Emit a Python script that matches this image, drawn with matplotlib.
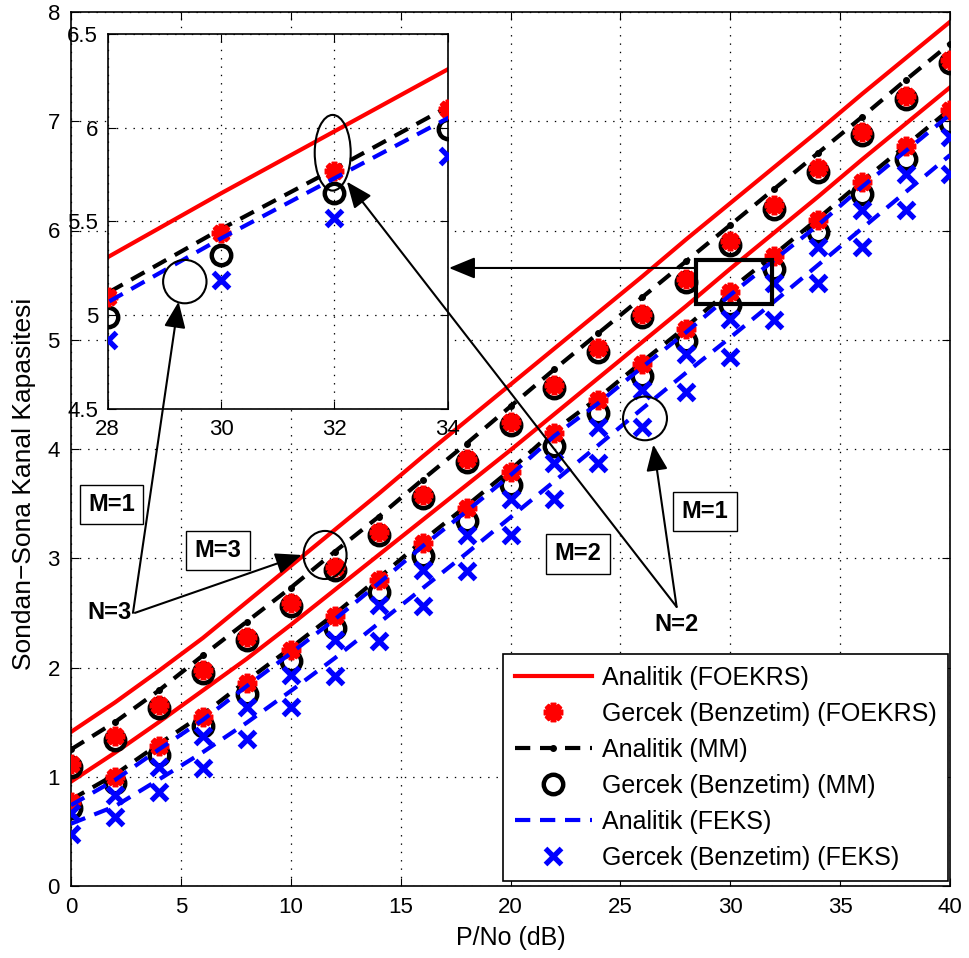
import matplotlib
matplotlib.use('Agg')
import matplotlib.pyplot as plt
from matplotlib.patches import Ellipse, Rectangle
from matplotlib.lines import Line2D

plt.rcParams['font.family'] = ['Liberation Sans', 'DejaVu Sans']
plt.rcParams['lines.scale_dashes'] = False

# ------------ data ------------
snr = [0, 2, 4, 6, 8, 10, 12, 14, 16, 18, 20, 22, 24, 26, 28, 30, 32, 34, 36, 38, 40]

# upper group (N=3)
foekrs_an_hi = [1.41, 1.68, 1.97, 2.27, 2.60, 2.93, 3.26, 3.59, 3.93, 4.26, 4.59,
                4.92, 5.25, 5.58, 5.92, 6.25, 6.58, 6.91, 7.25, 7.58, 7.91]
foekrs_sim_hi = [1.12, 1.37, 1.66, 1.98, 2.28, 2.59, 2.92, 3.24, 3.58, 3.91, 4.25,
                 4.59, 4.92, 5.24, 5.56, 5.90, 6.23, 6.57, 6.90, 7.23, 7.56]
mm_an_hi = [1.25, 1.50, 1.79, 2.11, 2.42, 2.73, 3.06, 3.38, 3.72, 4.05, 4.39,
            4.73, 5.06, 5.39, 5.72, 6.05, 6.38, 6.71, 7.04, 7.38, 7.71]
mm_sim_hi = [1.09, 1.34, 1.63, 1.95, 2.25, 2.56, 2.89, 3.21, 3.55, 3.88, 4.22,
             4.56, 4.89, 5.21, 5.53, 5.87, 6.20, 6.54, 6.87, 7.20, 7.53]

# lower group (N=2)
foekrs_an_lo = [0.955, 1.22, 1.50, 1.79, 2.08, 2.39, 2.71, 3.03, 3.35, 3.67, 3.99,
                4.32, 4.65, 4.98, 5.31, 5.65, 5.98, 6.31, 6.65, 6.98, 7.31]
foekrs_sim_lo = [0.77, 1.00, 1.28, 1.55, 1.86, 2.16, 2.47, 2.80, 3.14, 3.46, 3.79,
                 4.15, 4.45, 4.78, 5.10, 5.44, 5.77, 6.10, 6.44, 6.77, 7.10]
mm_an_lo = [0.79, 1.02, 1.30, 1.57, 1.88, 2.18, 2.49, 2.82, 3.16, 3.48, 3.81,
            4.17, 4.47, 4.80, 5.12, 5.46, 5.78, 6.11, 6.45, 6.78, 7.11]
mm_sim_lo = [0.71, 0.94, 1.20, 1.46, 1.76, 2.06, 2.36, 2.69, 3.02, 3.34, 3.67,
             4.03, 4.33, 4.67, 4.99, 5.32, 5.65, 5.99, 6.33, 6.65, 6.98]
feks_an_lo = [0.74, 0.97, 1.25, 1.52, 1.83, 2.13, 2.44, 2.77, 3.11, 3.43, 3.76,
              4.12, 4.42, 4.75, 5.07, 5.41, 5.73, 6.05, 6.40, 6.73, 7.06]
feks_sim_lo = [0.665, 0.83, 1.09, 1.37, 1.64, 1.93, 2.25, 2.57, 2.89, 3.21, 3.54,
               3.87, 4.20, 4.54, 4.87, 5.19, 5.52, 5.85, 6.19, 6.52, 6.86]

# lowest blue pair
feks_an_lo2 = [0.57, 0.73, 0.975, 1.225, 1.495, 1.785, 2.085, 2.405, 2.725, 3.045, 3.375,
               3.705, 4.035, 4.37, 4.70, 5.02, 5.35, 5.685, 6.02, 6.355, 6.69]
feks_sim_lo2 = [0.48, 0.63, 0.86, 1.08, 1.35, 1.64, 1.92, 2.24, 2.56, 2.88, 3.21,
                3.54, 3.87, 4.20, 4.525, 4.845, 5.18, 5.52, 5.85, 6.19, 6.52]

labels = ['Analitik (FOEKRS)', 'Gercek (Benzetim) (FOEKRS)', 'Analitik (MM)',
          'Gercek (Benzetim) (MM)', 'Analitik (FEKS)', 'Gercek (Benzetim) (FEKS)']

# ------------ styles ------------
DASH = (11, 7)
red_line = dict(color='red', lw=3, zorder=2)
star = dict(ls='none', marker=(8, 2, 0), ms=14, mew=4, color='red', zorder=3.5)
black_line = dict(color='black', lw=3, ls='--', dashes=DASH, marker='o', ms=4, zorder=2.1)
circ = dict(ls='none', marker='o', ms=14, mew=3.2, mfc='none', mec='black', zorder=3)
blue_line = dict(color='blue', lw=3, ls='--', dashes=DASH, zorder=3.6)
cross = dict(ls='none', marker='x', ms=12, mew=3.8, color='blue', zorder=3.7)


def lower_group(a):
    a.plot(snr, foekrs_an_lo, **red_line)
    a.plot(snr, foekrs_sim_lo, **star)
    a.plot(snr, mm_an_lo, **black_line)
    a.plot(snr, mm_sim_lo, **circ)
    a.plot(snr, feks_an_lo, **blue_line)
    a.plot(snr, feks_sim_lo, **cross)


fig = plt.figure(figsize=(9.69, 9.58), dpi=100)
ax = fig.add_axes([71 / 969, 1 - 886 / 958, 879 / 969, 874 / 958])

ax.plot(snr, foekrs_an_hi, **red_line)
ax.plot(snr, foekrs_sim_hi, **star)
ax.plot(snr, mm_an_hi, **black_line)
ax.plot(snr, mm_sim_hi, **circ)
lower_group(ax)
ax.plot(snr, feks_an_lo2, **blue_line)
ax.plot(snr, feks_sim_lo2, **cross)

ax.set_xlim(0, 40)
ax.set_ylim(0, 8)
ax.set_xticks(range(0, 41, 5))
ax.set_yticks(range(0, 9))
ax.tick_params(direction='in', top=True, right=True, length=6, labelsize=16, pad=8)
ax.grid(True, ls=(0, (1, 5)), color='black', lw=0.9)
ax.set_axisbelow(True)
for s in ax.spines.values():
    s.set_linewidth(1.2)
ax.set_xlabel('P/No (dB)', fontsize=18, labelpad=6)
ax.set_ylabel('Sondan\u2212Sona Kanal Kapasitesi', fontsize=19)
ax.yaxis.set_label_coords(-0.040, 0.46)

# legend
handles = [
    Line2D([], [], **red_line),
    Line2D([], [], **star),
    Line2D([], [], **black_line),
    Line2D([], [], **circ),
    Line2D([], [], **blue_line),
    Line2D([], [], **cross),
]
leg = ax.legend(handles, labels, loc='lower right', bbox_to_anchor=(0.998, 0.006),
                borderaxespad=0, fontsize=18, fancybox=False, edgecolor='black',
                framealpha=1, handlelength=3.1, handletextpad=0.4, labelspacing=0.48,
                borderpad=0.45, numpoints=1)
leg.get_frame().set_linewidth(1.2)
leg.set_zorder(8)

# ------------ inset ------------
axins = ax.inset_axes([0.0418, 0.5454, 0.3868, 0.4298])
lower_group(axins)
axins.set_xlim(28, 34)
axins.set_ylim(4.5, 6.5)
axins.set_xticks([28, 30, 32, 34])
axins.set_yticks([4.5, 5, 5.5, 6, 6.5])
axins.set_yticklabels(['4.5', '5', '5.5', '6', '6.5'])
axins.tick_params(direction='in', top=True, right=True, length=6, labelsize=16, pad=7)
axins.grid(True, ls=(0, (1, 5)), color='black', lw=0.9)
axins.set_axisbelow(True)
for s in axins.spines.values():
    s.set_linewidth(1.2)
axins.add_patch(Ellipse((29.36, 5.18), 0.766, 0.231, fill=False, ec='black', lw=1.5, zorder=6))
axins.add_patch(Ellipse((31.97, 5.866), 0.635, 0.403, fill=False, ec='black', lw=1.5, zorder=6))

# ------------ annotations ------------
ax.add_patch(Ellipse((11.56, 3.03), 1.96, 0.44, fill=False, ec='black', lw=1.5, zorder=6))
ax.add_patch(Ellipse((26.12, 4.28), 2.0, 0.40, fill=False, ec='black', lw=1.5, zorder=6))
ax.add_patch(Rectangle((28.44, 5.33), 3.47, 0.40, fill=False, ec='black', lw=3, zorder=6))

box = dict(boxstyle='square,pad=0.35', fc='white', ec='black', lw=1)
for tx, ty, s in [(1.85, 3.49, 'M=1'), (6.69, 3.07, 'M=3'),
                  (23.07, 3.04, 'M=2'), (28.85, 3.43, 'M=1')]:
    ax.text(tx, ty, s, fontsize=17, fontweight='bold', ha='center', va='center',
            bbox=box, zorder=7)
ax.text(1.77, 2.50, 'N=3', fontsize=17, fontweight='bold', ha='center', va='center', zorder=7)
ax.text(27.56, 2.39, 'N=2', fontsize=17, fontweight='bold', ha='center', va='center', zorder=7)

arr = dict(arrowstyle='-|>,head_length=0.8,head_width=0.33', mutation_scale=20,
           lw=1.5, color='black', shrinkA=0, shrinkB=0)
ax.annotate('', xy=(29.25, 5.073), xycoords=axins.transData, xytext=(2.82, 2.50),
            textcoords='data', arrowprops=arr, zorder=10)
ax.annotate('', xy=(10.5, 3.03), xytext=(2.91, 2.50), arrowprops=arr, zorder=10)
ax.annotate('', xy=(32.22, 5.712), xycoords=axins.transData, xytext=(27.56, 2.555),
            textcoords='data', arrowprops=arr, zorder=10)
ax.annotate('', xy=(26.5, 4.04), xytext=(27.56, 2.555), arrowprops=arr, zorder=10)
ax.annotate('', xy=(17.2, 5.657), xytext=(28.44, 5.657), arrowprops=arr, zorder=10)

fig.savefig('out.png', dpi=100)
